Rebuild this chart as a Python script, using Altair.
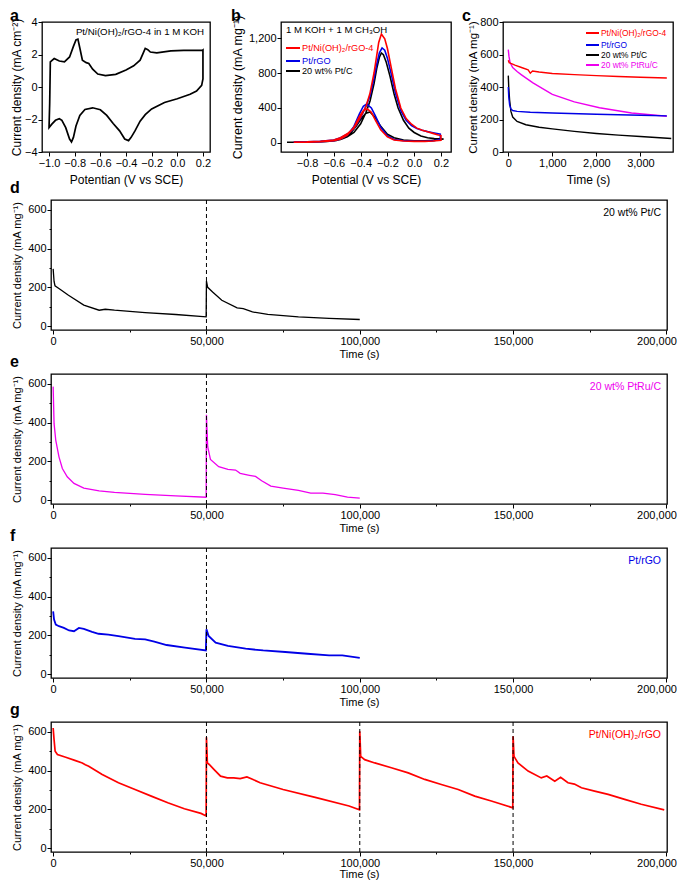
import altair as alt
import pandas as pd

FONT = "Liberation Sans"
RED = "#ff0000"
BLUE = "#0000e6"
MAG = "#ee00ee"
BLK = "#000000"

# ---------------- panel a: CV of Pt/Ni(OH)2/rGO-4 in 1 M KOH ----------------
cv_potential = [-1.0, -0.995, -0.99, -0.96, -0.92, -0.88, -0.84, -0.81, -0.79, -0.775,
                -0.76, -0.74, -0.71, -0.69, -0.66, -0.62, -0.56, -0.48, -0.40, -0.34,
                -0.29, -0.265, -0.25, -0.23, -0.21, -0.16, -0.05, 0.05, 0.15, 0.195,
                0.2, 0.2, 0.19, 0.15, 0.1, 0.0, -0.1, -0.2, -0.25, -0.29,
                -0.33, -0.36, -0.38, -0.41, -0.45, -0.5, -0.55, -0.6, -0.66, -0.72,
                -0.76, -0.79, -0.81, -0.825, -0.84, -0.87, -0.9, -0.92, -0.95, -0.98,
                -1.0, -1.0]
cv_current = [-2.45, -1.0, 1.55, 1.75, 1.6, 1.55, 1.85, 2.5, 2.9, 2.95,
              2.4, 1.65, 1.5, 1.45, 1.1, 0.8, 0.7, 0.78, 1.05, 1.3,
              1.65, 2.1, 2.38, 2.3, 2.15, 2.1, 2.22, 2.25, 2.25, 2.25,
              2.28, 0.5, 0.1, -0.25, -0.45, -0.72, -0.95, -1.35, -1.7, -2.1,
              -2.7, -3.1, -3.3, -3.2, -2.7, -2.25, -1.75, -1.4, -1.28, -1.38,
              -1.75, -2.4, -3.1, -3.38, -3.2, -2.5, -2.05, -1.95, -2.05, -2.3,
              -2.5, -2.45]

# ---------------- panel b: methanol oxidation CVs ----------------
b_red_v = [-0.90, -0.80, -0.70, -0.60, -0.55, -0.50, -0.45, -0.40, -0.36, -0.33, -0.30, -0.28,
           -0.265, -0.245, -0.22, -0.20, -0.17, -0.14, -0.10, -0.06, -0.02, 0.02, 0.06, 0.10,
           0.14, 0.18, 0.20,
           0.20, 0.14, 0.08, 0.00, -0.08, -0.15, -0.20, -0.25, -0.29, -0.32, -0.35, -0.38,
           -0.41, -0.45, -0.50, -0.55, -0.60, -0.70, -0.80, -0.90]
b_red_j = [12, 14, 20, 35, 60, 105, 170, 300, 420, 570, 800, 1000,
           1150, 1245, 1190, 1080, 850, 620, 400, 280, 215, 170, 145, 128,
           110, 92, 85,
           30, 22, 18, 18, 22, 35, 70, 150, 260, 350, 389, 370,
           300, 180, 90, 45, 25, 15, 10, 8]
b_blue_v = [-0.90, -0.80, -0.70, -0.60, -0.55, -0.50, -0.45, -0.40, -0.36, -0.33, -0.30, -0.28,
            -0.26, -0.24, -0.22, -0.20, -0.17, -0.14, -0.10, -0.06, -0.02, 0.02, 0.06, 0.10,
            0.14, 0.18, 0.195,
            0.195, 0.14, 0.08, 0.00, -0.08, -0.15, -0.20, -0.25, -0.29, -0.32, -0.355, -0.38,
            -0.41, -0.45, -0.50, -0.55, -0.60, -0.70, -0.80, -0.90]
b_blue_j = [15, 15, 20, 35, 60, 100, 165, 290, 420, 540, 740, 900,
            1030, 1086, 1060, 970, 780, 570, 370, 260, 200, 165, 145, 130,
            118, 105, 100,
            40, 25, 20, 20, 25, 40, 80, 180, 310, 400, 445, 420,
            330, 190, 90, 45, 25, 15, 12, 10]
b_blk_v = [-0.95, -0.80, -0.70, -0.60, -0.55, -0.50, -0.45, -0.40, -0.36, -0.33, -0.30, -0.28,
           -0.26, -0.245, -0.23, -0.21, -0.18, -0.15, -0.12, -0.08, -0.04, 0.00, 0.05, 0.10,
           0.15, 0.22,
           0.22, 0.15, 0.08, 0.00, -0.08, -0.15, -0.20, -0.25, -0.29, -0.33, -0.36, -0.39,
           -0.43, -0.47, -0.52, -0.58, -0.65, -0.75, -0.95]
b_blk_j = [8, 10, 15, 25, 40, 70, 120, 220, 350, 480, 680, 850,
           980, 1029, 1010, 930, 760, 560, 400, 260, 170, 120, 80, 60,
           50, 45,
           45, 30, 25, 25, 35, 60, 100, 190, 290, 354, 340, 290,
           200, 120, 60, 30, 18, 12, 8]

# ---------------- panel c: chronoamperometry (1 h) ----------------
c_red_t = [0, 20, 60, 150, 300, 450, 500, 550, 700, 1000, 1500, 2000, 2500, 3000, 3600]
c_red_j = [565, 550, 545, 535, 520, 505, 485, 498, 492, 483, 476, 470, 465, 460, 455]
c_blue_t = [0, 10, 30, 60, 100, 200, 500, 1000, 2000, 3000, 3600]
c_blue_j = [400, 340, 290, 265, 255, 250, 245, 240, 232, 226, 222]
c_blk_t = [0, 10, 30, 60, 100, 200, 400, 700, 1000, 1500, 2000, 2500, 3000, 3700]
c_blk_j = [470, 400, 320, 250, 215, 188, 168, 152, 142, 127, 114, 104, 95, 83]
c_mag_t = [0, 15, 40, 100, 200, 300, 560, 1000, 1500, 2070, 2800, 3600]
c_mag_j = [630, 590, 550, 520, 495, 475, 425, 355, 308, 272, 240, 220]

# ---------------- panels d-g: long-term stability ----------------
d_t = [0, 300, 600, 2000, 5000, 10000, 15000, 17000, 20000, 30000, 40000, 49900,
       50000, 50400, 52000, 55000, 60000, 62000, 65000, 70000, 80000, 90000, 100000]
d_j = [295, 230, 208, 193, 159, 108, 82, 87, 82, 70, 60, 48,
       232, 200, 176, 133, 94, 90, 73, 60, 48, 40, 34]

e_t = [0, 300, 860, 1900, 3000, 4600, 6800, 10000, 15000, 20000, 30000, 40000, 49900,
       50000, 50400, 51300, 54000, 57000, 59500, 61000, 64000, 66000, 68000, 71000,
       75000, 80000, 84000, 88000, 92000, 96000, 100000]
e_j = [585, 394, 308, 223, 163, 120, 86, 62, 48, 40, 30, 22, 15,
       440, 275, 210, 172, 158, 155, 138, 128, 122, 100, 72,
       62, 50, 36, 36, 28, 15, 10]

f_t = [0, 300, 860, 1900, 3500, 5200, 6800, 8400, 10000, 12700, 14800, 18000, 21300,
       26700, 30000, 33000, 37000, 43000, 49800,
       50000, 50700, 53000, 57000, 62800, 68500, 75700, 82900, 90000, 94300, 100000]
f_j = [323, 281, 255, 247, 238, 225, 221, 238, 233, 218, 208, 204, 196,
       182, 179, 167, 150, 136, 122,
       231, 197, 162, 145, 131, 122, 114, 105, 97, 97, 84]

g_t = [0, 300, 650, 1400, 4100, 7300, 9500, 10500, 11600, 16000, 21300, 26700, 32000,
       37400, 42800, 48200, 49900,
       50000, 50300, 50900, 52500, 54600, 56800, 58900, 61000, 63200, 65000, 67500,
       75000, 85800, 96500, 99900,
       100000, 100300, 101600, 104900, 110300, 115800, 121200, 126600, 132100, 137500,
       142900, 149900,
       150000, 150300, 151600, 154900, 159200, 161000, 163600, 165500, 167900, 170000,
       172300, 176600, 181000, 186400, 191800, 199300]
g_j = [619, 559, 499, 482, 468, 451, 439, 430, 422, 379, 337, 302, 268,
       234, 203, 179, 166,
       571, 439, 431, 405, 371, 362, 362, 358, 367, 355, 337,
       302, 260, 217, 197,
       602, 473, 456, 439, 414, 388, 354, 328, 302, 268,
       243, 208,
       576, 473, 439, 397, 362, 372, 345, 365, 337, 330,
       311, 294, 277, 251, 226, 197]

long_ticks = [0, 25000, 50000, 75000, 100000, 125000, 150000, 175000, 200000]
long_yticks = [0, 100, 200, 300, 400, 500, 600]
YT_MG = "Current density (mA mg\u207b\u00b9)"
YT_CM = "Current density (mA cm\u207b\u00b2)"

one = pd.DataFrame({"k": [0]})
FRAME = alt.ViewBackground(stroke="black", strokeWidth=1.3)


def txt(s, x, y, size=10, color=BLK, align="left", baseline="middle", weight="normal"):
    return alt.Chart(one).mark_text(text=s, font=FONT, fontSize=size, color=color, align=align,
                                    baseline=baseline, fontWeight=weight).encode(
        x=alt.value(x), y=alt.value(y))


def letter(s, x, y):
    return txt(s, x, y, size=16, baseline="top", weight="bold")


def legline(color, x1, x2, y):
    return alt.Chart(one).mark_rule(color=color, strokeWidth=2).encode(
        x=alt.value(x1), x2=alt.value(x2), y=alt.value(y))


def anchor(x):
    return alt.Chart(one).mark_point(opacity=0, size=0, strokeWidth=0).encode(
        x=alt.value(x), y=alt.value(60))


def spacer(h=130):
    return alt.Chart(one).mark_point(opacity=0, size=0, strokeWidth=0).encode(
        x=alt.value(0), y=alt.value(0)).properties(width=1, height=h)


def series_line(x_list, y_list, color, xenc_kw, yenc_kw, sw):
    df = pd.DataFrame({"x": x_list, "y": y_list, "o": list(range(len(x_list)))})
    return alt.Chart(df).mark_line(color=color, strokeWidth=sw).encode(
        x=alt.X("x:Q", **xenc_kw), y=alt.Y("y:Q", **yenc_kw), order="o:Q")


# ---- panel a
a_x = dict(scale=alt.Scale(domain=[-1.055, 0.255], nice=False, zero=False),
           axis=alt.Axis(values=[-1.0, -0.8, -0.6, -0.4, -0.2, 0.0, 0.2], format=".1f",
                         title="Potentian (V vs SCE)", titleY=22, titleFontSize=12))
a_y = dict(scale=alt.Scale(domain=[-4, 4], nice=False),
           axis=alt.Axis(values=[-4, -2, 0, 2, 4], format="d", title=YT_CM,
                         titleX=-19, titleFontSize=12))
panel_a = alt.layer(
    series_line(cv_potential, cv_current, BLK, a_x, a_y, 1.7),
    txt("Pt/Ni(OH)\u2082/rGO-4 in 1 M KOH", 162, 10, size=9.7, align="right"),
    letter("a", -32, -14),
).properties(width=168, height=130, view=FRAME)

# ---- panel b
b_x = dict(scale=alt.Scale(domain=[-0.995, 0.275], nice=False, zero=False),
           axis=alt.Axis(values=[-0.8, -0.6, -0.4, -0.2, 0.0, 0.2], format=".1f",
                         title="Potential (V vs SCE)", titleY=22, titleFontSize=12))
b_y = dict(scale=alt.Scale(domain=[-103, 1383], nice=False),
           axis=alt.Axis(values=[0, 400, 800, 1200], format=",.0f", title=YT_MG,
                         titleX=-37, titleFontSize=12.5))
panel_b = alt.layer(
    series_line(b_blk_v, b_blk_j, BLK, b_x, b_y, 1.6),
    series_line(b_blue_v, b_blue_j, BLUE, b_x, b_y, 1.6),
    series_line(b_red_v, b_red_j, RED, b_x, b_y, 1.6),
    txt("1 M KOH + 1 M CH\u2083OH", 5, 8, size=9.6),
    legline(RED, 5, 19, 26), txt("Pt/Ni(OH)\u2082/rGO-4", 21, 26, size=9.2, color=RED),
    legline(BLUE, 5, 19, 39), txt("Pt/rGO", 21, 39, size=9.2, color=BLUE),
    legline(BLK, 5, 19, 49), txt("20 wt% Pt/C", 21, 49, size=9.2, color=BLK),
    letter("b", -50, -14),
    anchor(-68),
).properties(width=170, height=130, view=FRAME)

# ---- panel c
c_x = dict(scale=alt.Scale(domain=[-120, 3740], nice=False, zero=False),
           axis=alt.Axis(values=[0, 1000, 2000, 3000], format=",.0f", title="Time (s)",
                         titleY=22, titleFontSize=12))
c_y = dict(scale=alt.Scale(domain=[0, 800], nice=False),
           axis=alt.Axis(values=[0, 200, 400, 600, 800], format="d", title=YT_MG,
                         titleX=-25, titleFontSize=11.5))
panel_c = alt.layer(
    series_line(c_mag_t, c_mag_j, MAG, c_x, c_y, 1.4),
    series_line(c_blk_t, c_blk_j, BLK, c_x, c_y, 1.4),
    series_line(c_blue_t, c_blue_j, BLUE, c_x, c_y, 1.4),
    series_line(c_red_t, c_red_j, RED, c_x, c_y, 1.4),
    legline(RED, 83, 96, 11), txt("Pt/Ni(OH)\u2082/rGO-4", 98, 11, size=8.4, color=RED),
    legline(BLUE, 83, 96, 23), txt("Pt/rGO", 98, 23, size=8.4, color=BLUE),
    legline(BLK, 83, 96, 33), txt("20 wt% Pt/C", 98, 33, size=8.4, color=BLK),
    legline(MAG, 83, 96, 43), txt("20 wt% PtRu/C", 98, 43, size=8.4, color=MAG),
    letter("c", -41, -14),
    anchor(-50),
).properties(width=170, height=130, view=FRAME)


# ---- panels d-g
def long_panel(ts, js, color, label, let, dashes, sw=1.3, title_y=18):
    xkw = dict(scale=alt.Scale(domain=[-700, 200200], nice=False, zero=False),
               axis=alt.Axis(values=long_ticks, format=",.0f", title="Time (s)",
                             labelExpr="datum.value % 50000 === 0 ? datum.label : ''",
                             tickSize=alt.condition("datum.value % 50000 === 0",
                                                    alt.value(4), alt.value(2)),
                             titleY=title_y, labelFlush=1, labelFlushOffset=10))
    ykw = dict(scale=alt.Scale(domain=[-20, 650], nice=False),
               axis=alt.Axis(values=long_yticks, format="d", title=YT_MG, titleX=-29,
                             labelExpr="datum.value % 200 === 0 ? datum.label : ''",
                             tickSize=alt.condition("datum.value % 200 === 0",
                                                    alt.value(4), alt.value(2))))
    rules = alt.Chart(pd.DataFrame({"x": dashes})).mark_rule(
        color=BLK, strokeDash=[4, 3], strokeWidth=1).encode(x=alt.X("x:Q", **xkw))
    return alt.layer(
        series_line(ts, js, color, xkw, ykw, sw), rules,
        txt(label, 610, 13, size=10.5, color=color, align="right"),
        letter(let, -41, -20),
    ).properties(width=616, height=130, view=FRAME)


panel_d = long_panel(d_t, d_j, BLK, "20 wt% Pt/C", "d", [50000])
panel_e = long_panel(e_t, e_j, MAG, "20 wt% PtRu/C", "e", [50000])
panel_f = long_panel(f_t, f_j, BLUE, "Pt/rGO", "f", [50000], sw=1.8)
panel_g = long_panel(g_t, g_j, RED, "Pt/Ni(OH)\u2082/rGO", "g", [50000, 100000, 150000],
                     sw=1.7, title_y=16)

top_row = alt.hconcat(spacer(), panel_a, panel_b, panel_c, spacing=0)
bottom_rows = [alt.hconcat(spacer(), p, spacing=0) for p in [panel_d, panel_e, panel_f, panel_g]]

# fixed-size canvas: origin at the top-left panel letter, total 669 x 872 px
chart = alt.vconcat(top_row, *bottom_rows, spacing=-7).properties(
    autosize=alt.AutoSizeParams(type="none"),
    padding={"left": 0, "top": 14, "right": 669, "bottom": 858},
    background="white",
).configure_view(
    strokeWidth=0
).configure_axis(
    labelFont=FONT, titleFont=FONT, labelFontSize=11, titleFontSize=11,
    titleFontWeight="normal", labelColor=BLK, titleColor=BLK,
    tickColor=BLK, tickSize=4, tickWidth=1, labelPadding=1,
    domain=False, grid=False, labelFlush=False,
)

chart.save("out.html", embed_options={"renderer": "svg", "actions": False})
